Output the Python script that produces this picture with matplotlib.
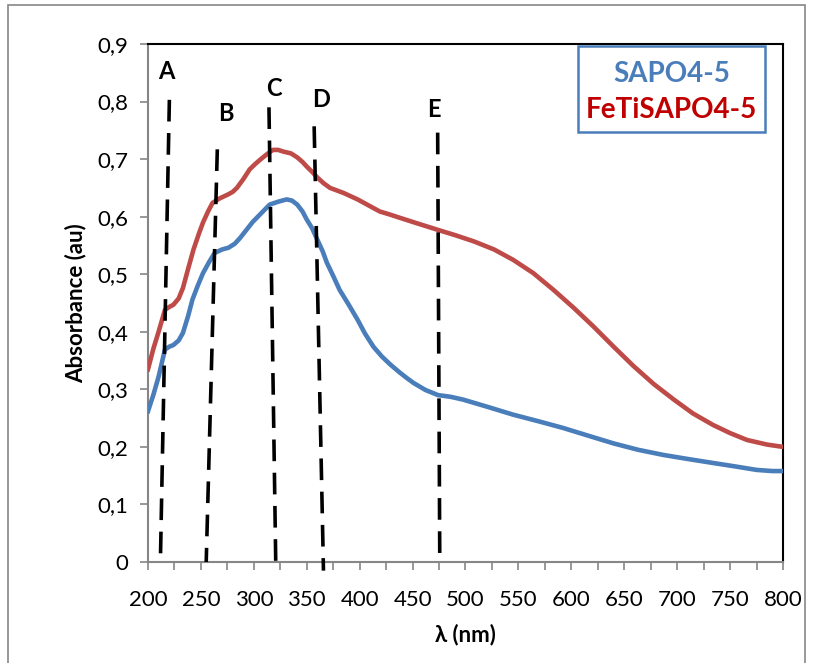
import matplotlib
matplotlib.use("Agg")
import matplotlib.pyplot as plt
from matplotlib.patches import Rectangle
from matplotlib.ticker import MultipleLocator, FuncFormatter

plt.rcParams['font.family'] = ['Lato', 'DejaVu Sans']

# SAPO4-5 (blue)
sapo_x = [200, 205, 210, 216, 220, 224, 229, 233, 238, 242, 247, 252, 258, 263, 270, 276,
          282, 287, 293, 299, 307, 315, 323, 331, 336, 341, 346, 350, 355, 360, 365, 369,
          375, 381, 390, 398, 405, 413, 421, 429, 438, 445, 451, 462, 474, 486, 498, 520,
          545, 570, 592, 615, 640, 663, 687, 710, 734, 755, 775, 790, 800]
sapo_y = [0.262, 0.290, 0.322, 0.369, 0.374, 0.377, 0.385, 0.398, 0.428, 0.456, 0.480,
          0.502, 0.522, 0.537, 0.543, 0.546, 0.553, 0.563, 0.577, 0.591, 0.606, 0.621,
          0.626, 0.630, 0.628, 0.621, 0.609, 0.595, 0.580, 0.560, 0.540, 0.520, 0.497,
          0.473, 0.446, 0.421, 0.397, 0.374, 0.357, 0.343, 0.329, 0.319, 0.311, 0.299,
          0.290, 0.287, 0.282, 0.270, 0.256, 0.244, 0.233, 0.220, 0.206, 0.195, 0.186,
          0.179, 0.172, 0.166, 0.160, 0.158, 0.158]

# FeTiSAPO4-5 (red)
feti_x = [200, 205, 210, 216, 220, 224, 229, 233, 238, 243, 248, 252, 257, 261, 268, 275,
          280, 284, 290, 296, 301, 306, 312, 318, 323, 328, 335, 341, 346, 350, 355, 360,
          366, 372, 385, 398, 408, 419, 428, 438, 455, 474, 490, 508, 527, 545, 564, 583,
          602, 621, 640, 659, 678, 697, 715, 734, 750, 766, 785, 800]
feti_y = [0.335, 0.370, 0.400, 0.438, 0.443, 0.447, 0.458, 0.476, 0.510, 0.543, 0.570,
          0.590, 0.610, 0.624, 0.632, 0.638, 0.643, 0.650, 0.665, 0.682, 0.691, 0.699,
          0.708, 0.716, 0.716, 0.713, 0.710, 0.703, 0.695, 0.687, 0.678, 0.668, 0.658,
          0.650, 0.641, 0.630, 0.620, 0.609, 0.604, 0.598, 0.588, 0.577, 0.568, 0.557,
          0.543, 0.525, 0.502, 0.473, 0.442, 0.409, 0.374, 0.340, 0.309, 0.282, 0.258,
          0.238, 0.224, 0.212, 0.204, 0.200]

# Dashed marker lines A-E
band_labels = ['A', 'B', 'C', 'D', 'E']
band_top_x = [220.2, 265.5, 314.3, 357.0, 473.7]
band_top_y = [0.803, 0.717, 0.790, 0.757, 0.746]
band_bot_x = [211.7, 255.0, 320.7, 365.8, 475.7]
band_bot_y = [0.0, 0.0, 0.0, -0.015, 0.0]
label_x = [217.6, 273.4, 319.4, 363.6, 470.4]
label_y = [0.853, 0.780, 0.822, 0.803, 0.787]

blue = '#4A7EBB'
red = '#BE4B48'
gray = '#868686'

fig = plt.figure(figsize=(8.17, 6.63), dpi=100)
ax = fig.add_axes([148/817, 1-562/663, (783-148)/817, (562-44)/663])

# outer chart border
fig.patches.append(Rectangle((8/817, -0.01), (805-8)/817, 1-5/663+0.01,
                             transform=fig.transFigure, fill=False,
                             edgecolor=gray, linewidth=1.2))

ax.plot(sapo_x, sapo_y, color=blue, linewidth=3.3, solid_joinstyle='round', zorder=3)
ax.plot(feti_x, feti_y, color=red, linewidth=3.3, solid_joinstyle='round', zorder=3)

for lab, tx, ty, bx, by, lx, ly in zip(band_labels, band_top_x, band_top_y,
                                       band_bot_x, band_bot_y, label_x, label_y):
    ax.plot([tx, bx], [ty, by], color='black', linewidth=2.6,
            dashes=(6, 3.2), clip_on=False, zorder=4)
    ax.text(lx, ly, lab, ha='center', va='center', fontsize=17,
            fontweight='bold', color='black')

ax.set_xlim(200, 800)
ax.set_ylim(0, 0.9)
ax.xaxis.set_major_locator(MultipleLocator(50))
ax.xaxis.set_minor_locator(MultipleLocator(25))
ax.yaxis.set_major_locator(MultipleLocator(0.1))
ax.yaxis.set_major_formatter(FuncFormatter(
    lambda v, p: '0' if abs(v) < 1e-9 else ('%.1f' % v).replace('.', ',')))

ax.tick_params(axis='both', which='both', direction='out', length=6,
               color=gray, width=1.2, labelsize=16, labelcolor='black')
ax.tick_params(axis='x', which='major', pad=14)
ax.tick_params(axis='y', pad=8)

for s in ['left', 'bottom']:
    ax.spines[s].set_color(gray)
    ax.spines[s].set_linewidth(1.5)
for s in ['top', 'right']:
    ax.spines[s].set_color('black')
    ax.spines[s].set_linewidth(1.5)

ax.set_xlabel('λ (nm)', fontsize=16, fontweight='bold', labelpad=10)
ax.set_ylabel('Absorbance (au)', fontsize=16, fontweight='bold', labelpad=8)

# legend box
x0 = (578-148)/635
x1 = (765-148)/635
y0 = (562-132)/518
y1 = (562-46)/518
ax.add_patch(Rectangle((x0, y0), x1-x0, y1-y0, transform=ax.transAxes,
                       facecolor='white', edgecolor=blue, linewidth=1.8, zorder=5))
ax.text((x0+x1)/2, (562-74)/518, 'SAPO4-5', transform=ax.transAxes, ha='center',
        va='center', fontsize=20, fontweight='bold', color=blue, zorder=6)
ax.text((x0+x1)/2, (562-110)/518, 'FeTiSAPO4-5', transform=ax.transAxes, ha='center',
        va='center', fontsize=20, fontweight='bold', color='#C00000', zorder=6)

fig.savefig('out.png', dpi=100)
